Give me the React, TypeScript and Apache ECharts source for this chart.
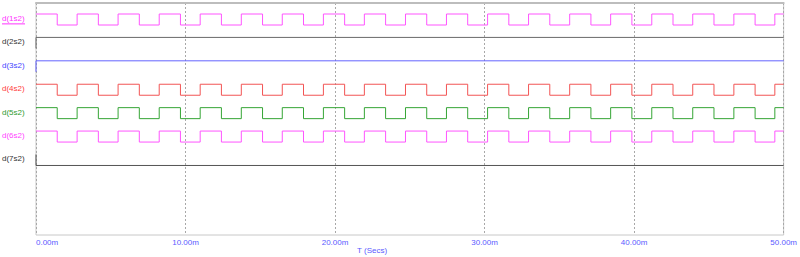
import React, { useEffect, useRef } from 'react';
import * as echarts from 'echarts';

// Trace names (top to bottom)
const SIGNAL_NAMES = ['d(1s2)', 'd(2s2)', 'd(3s2)', 'd(4s2)', 'd(5s2)', 'd(6s2)', 'd(7s2)'];
const LINE_COLORS = ['#ff55ff', '#6a6a6a', '#6464ff', '#f25454', '#35a535', '#ff55ff', '#555555'];
const LABEL_COLORS = ['#ff33ff', '#333333', '#4646ff', '#ff3a3a', '#2e9a2e', '#ff44ff', '#333333'];

// Clock edges (ms)
const RISE_TIMES = [0, 2.75, 5.49, 8.24, 10.98, 13.73, 16.47, 19.22, 21.96, 24.71, 27.45, 30.2, 32.94, 35.69, 38.43, 41.18, 43.92, 46.67, 49.41];
const FALL_TIMES = [1.42, 4.17, 6.91, 9.66, 12.4, 15.15, 17.89, 20.64, 23.38, 26.13, 28.87, 31.62, 34.36, 37.11, 39.85, 42.6, 45.34, 48.09];

// Constant traces: [time ms, level]
const D2S2: [number, number][] = [[0, 0], [0, 1], [50, 1]];
const D3S2: [number, number][] = [[0, 0], [0, 1], [50, 1]];
const D7S2: [number, number][] = [[0, 1], [0, 0], [50, 0]];

// X axis ticks
const X_TICKS = [0, 10, 20, 30, 40, 50];

const clock: [number, number][] = (() => {
  const pts: [number, number][] = [];
  RISE_TIMES.forEach((r, k) => {
    pts.push([r, 1]);
    if (k < FALL_TIMES.length) pts.push([FALL_TIMES[k], 0]);
  });
  pts.push([50, 1]);
  return pts;
})();

const SIGNALS: [number, number][][] = [clock, D2S2, D3S2, clock, clock, clock, D7S2];

const BAND_LOW = 0.94;
const BAND_AMP = 0.47;
const LABEL_OFFSET = 0.7;
const Y_MAX = 9.91;

export default function App() {
  const ref = useRef<HTMLDivElement>(null);
  useEffect(() => {
    document.body.style.margin = '0';
    if (!ref.current) return;
    const chart = echarts.init(ref.current, undefined, { renderer: 'svg' });
    const font = "'Liberation Sans', Arial, sans-serif";
    chart.setOption({
      animation: false,
      grid: {
        left: 36,
        right: 14,
        top: 3,
        bottom: 22,
        show: true,
        borderColor: '#c8c8c8',
        borderWidth: 1,
        containLabel: false,
      },
      xAxis: {
        type: 'value',
        min: X_TICKS[0],
        max: X_TICKS[X_TICKS.length - 1],
        interval: 10,
        axisLine: { show: true, lineStyle: { color: '#bdbdbd', width: 2 } },
        axisTick: { show: false },
        splitLine: { show: true, lineStyle: { color: '#a8a8a8', type: [2, 2], width: 1 } },
        axisLabel: {
          color: '#5a5aff',
          fontSize: 8,
          fontFamily: font,
          margin: 3,
          alignMinLabel: 'left',
          formatter: (v: number) => v.toFixed(2) + 'm',
        },
      },
      yAxis: {
        type: 'value',
        inverse: true,
        min: 0,
        max: Y_MAX,
        show: false,
        splitLine: { show: false },
      },
      series: SIGNALS.map((sig, i) => ({
        type: 'line',
        name: SIGNAL_NAMES[i],
        step: 'end',
        symbol: 'none',
        silent: true,
        lineStyle: { color: LINE_COLORS[i], width: 1 },
        data: sig.map(([t, v]) => [t, i + BAND_LOW - BAND_AMP * v]),
      })),
    });

    const graphics: any[] = [];
    SIGNAL_NAMES.forEach((name, i) => {
      const y = chart.convertToPixel({ yAxisIndex: 0 }, i + LABEL_OFFSET) as number;
      graphics.push({
        type: 'text',
        left: 2,
        top: y - 5,
        style: { text: name, fill: LABEL_COLORS[i], font: `8px ${font}` },
      });
      if (i === 0) {
        graphics.push({
          type: 'line',
          shape: { x1: 2, y1: y + 4.5, x2: 25, y2: y + 4.5 },
          style: { stroke: LABEL_COLORS[i], lineWidth: 1 },
        });
      }
    });
    graphics.push({
      type: 'text',
      left: 357,
      top: 246,
      style: { text: 'T (Secs)', fill: '#5a5aff', font: `8px ${font}` },
    });
    chart.setOption({ graphic: graphics });

    return () => chart.dispose();
  }, []);
  return <div ref={ref} style={{ width: 800, height: 257 }} />;
}
